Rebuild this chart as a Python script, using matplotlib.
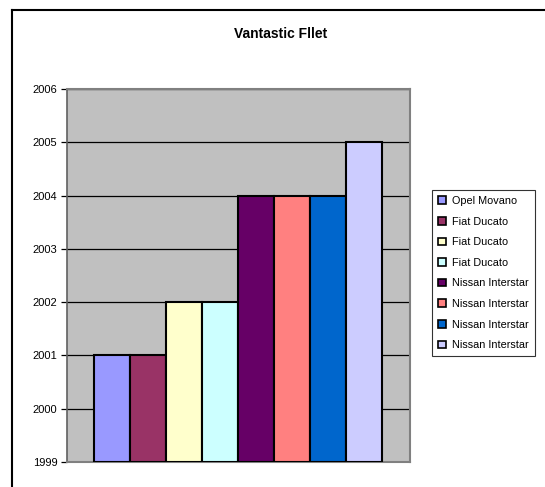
import matplotlib.pyplot as plt
from matplotlib.patches import Patch
from matplotlib.lines import Line2D

plt.rcParams['font.family'] = ['Liberation Sans', 'DejaVu Sans']

# chart data
models = ["Opel Movano", "Fiat Ducato", "Fiat Ducato", "Fiat Ducato",
          "Nissan Interstar", "Nissan Interstar", "Nissan Interstar", "Nissan Interstar"]
years = [2001, 2001, 2002, 2002, 2004, 2004, 2004, 2005]
colors = ["#9999FF", "#993366", "#FFFFCC", "#CCFFFF",
          "#660066", "#FF8080", "#0066CC", "#CCCCFF"]
y_ticks = [1999, 2000, 2001, 2002, 2003, 2004, 2005, 2006]

base = 1999

fig = plt.figure(figsize=(5.45, 4.87), dpi=100)
W, H = 545, 487
ax = fig.add_axes([67 / W, 1 - 462 / H, (410 - 67) / W, (462 - 89) / H])
ax.set_facecolor("#C0C0C0")

# chart-area border (left and top only visible)
fig.add_artist(Line2D([12 / W, 12 / W], [0, 1 - 9.5 / H], transform=fig.transFigure,
                      color="black", lw=1.5))
fig.add_artist(Line2D([12 / W, 1], [1 - 9.5 / H, 1 - 9.5 / H], transform=fig.transFigure,
                      color="black", lw=1.5))

xs = list(range(len(years)))
heights = [y - base for y in years]
ax.bar(xs, heights, bottom=base, width=1.0, color=colors, edgecolor="black",
       linewidth=1.5, zorder=3)

ax.set_ylim(1999, 2006)
ax.set_xlim(-0.5 - 0.75, len(years) - 0.5 + 0.78)
ax.set_yticks(y_ticks)
ax.set_yticklabels([str(t) for t in y_ticks], fontsize=8)
ax.set_xticks([])
ax.yaxis.grid(True, color="black", linewidth=0.9, zorder=1)
ax.set_axisbelow(True)
ax.tick_params(axis="y", direction="out", length=4, width=0.9, color="black", pad=3)

for side in ["top", "right", "bottom"]:
    ax.spines[side].set_color("#808080")
    ax.spines[side].set_linewidth(1.5)
ax.spines["left"].set_color("#606060")
ax.spines["left"].set_linewidth(1.2)

fig.text(281 / W, 1 - 34 / H, "Vantastic Fllet", ha="center", va="center",
         fontsize=10, fontweight="bold")

handles = [Patch(facecolor=c, edgecolor="black", linewidth=1.2) for c in colors]
leg = fig.legend(handles, models, loc="upper left",
                 bbox_to_anchor=(432 / W, 1 - 190 / H), fontsize=7.8,
                 frameon=True, fancybox=False, edgecolor="black",
                 handlelength=0.7, handleheight=0.7, handletextpad=0.6,
                 labelspacing=0.98, borderpad=0.55, borderaxespad=0)
leg.get_frame().set_linewidth(0.8)

fig.savefig("out.png", dpi=100)
